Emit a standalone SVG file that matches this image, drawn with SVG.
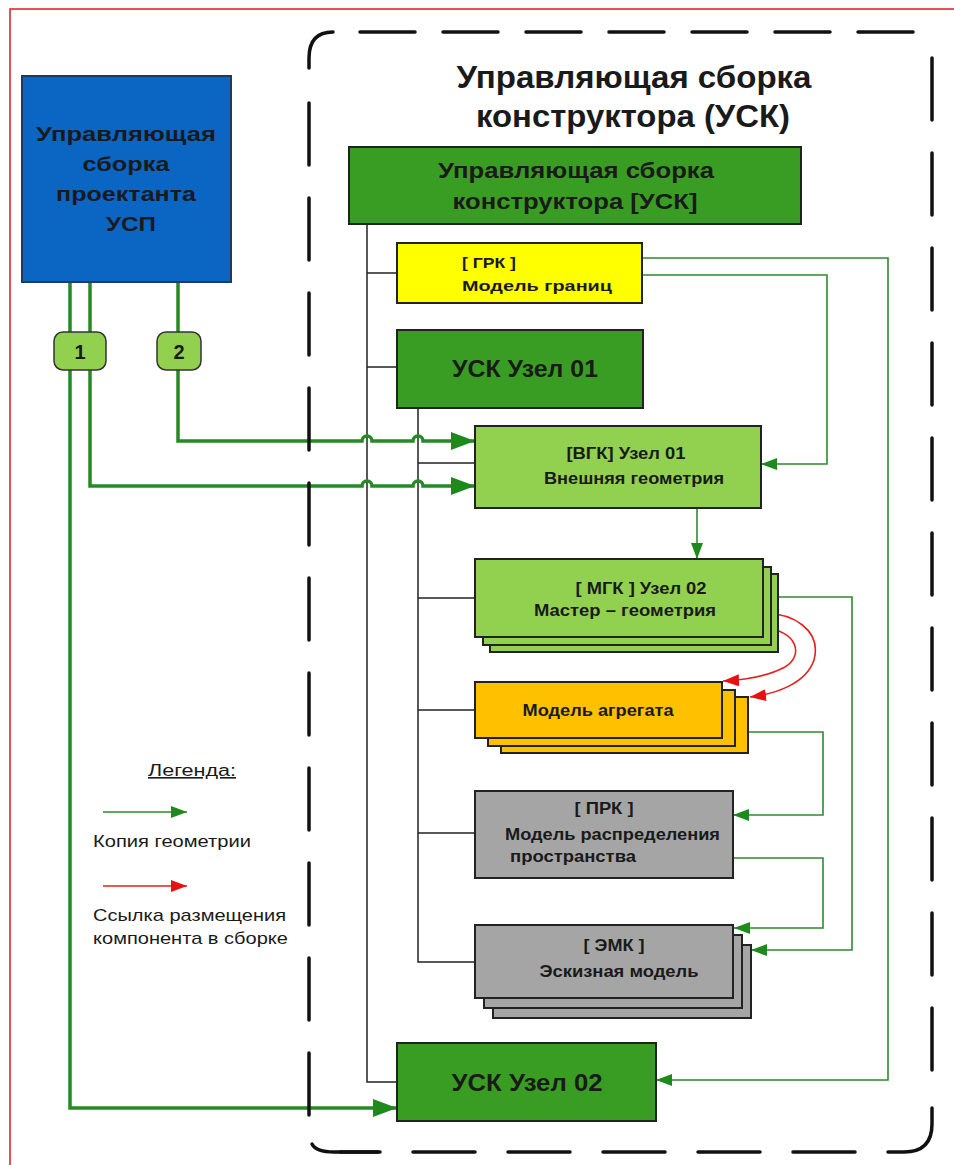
<svg xmlns="http://www.w3.org/2000/svg" width="954" height="1165" viewBox="0 0 954 1165">
<style>
  text { font-family: "Liberation Sans", Arial, sans-serif; fill: #1a1a1a; }
  .b { font-weight: bold; }
  .box { stroke: #222; stroke-width: 2; }
  .dkg { fill: #3A9D23; }
  .ltg { fill: #92D050; }
  .yel { fill: #FFFF00; }
  .org { fill: #FFC000; }
  .gry { fill: #A5A5A5; }
  .blk { fill: none; stroke: #222; stroke-width: 1.5; }
  .gthin { fill: none; stroke: #2E8B2E; stroke-width: 1.6; }
  .gthick { fill: none; stroke: #248A24; stroke-width: 3.5; }
  .red { fill: none; stroke: #E52020; stroke-width: 1.6; }
  .frame { fill: none; stroke: #111; stroke-width: 3.5; stroke-linecap: round; }
  .fh { stroke-dasharray: 55 28; }
  .fv { stroke-dasharray: 62 33; }
</style>
<defs>
  <marker id="ag" viewBox="0 0 16 12" refX="16" refY="6" markerWidth="16" markerHeight="12" markerUnits="userSpaceOnUse" orient="auto">
    <path d="M0,0 L16,6 L0,12 z" fill="#1E8A1E"/>
  </marker>
  <marker id="agt" viewBox="0 0 24 18" refX="24" refY="9" markerWidth="24" markerHeight="18" markerUnits="userSpaceOnUse" orient="auto">
    <path d="M0,0 L24,9 L0,18 z" fill="#1E8A1E"/>
  </marker>
  <marker id="ar" viewBox="0 0 16 12" refX="16" refY="6" markerWidth="16" markerHeight="12" markerUnits="userSpaceOnUse" orient="auto">
    <path d="M0,0 L16,6 L0,12 z" fill="#E81010"/>
  </marker>
</defs>

<rect x="0" y="0" width="954" height="1165" fill="#ffffff"/>
<rect x="10" y="9" width="1000" height="1200" fill="none" stroke="#E0191E" stroke-width="1.5"/>

<!-- connectors -->
<g id="connectors">
  <!-- black hierarchy lines -->
  <path class="blk" d="M367,224 V1082 H397"/>
  <path class="blk" d="M367,273 H397"/>
  <path class="blk" d="M367,367 H397"/>
  <path class="blk" d="M418,408 V962 H475"/>
  <path class="blk" d="M418,463 H475"/>
  <path class="blk" d="M418,598 H475"/>
  <path class="blk" d="M418,710 H475"/>
  <path class="blk" d="M418,833 H475"/>

  <!-- thick green lines from УСП -->
  <path class="gthick" d="M70,282 V1108 H397" marker-end="url(#agt)"/>
  <path class="gthick" d="M90,282 V486 H362 a5,5 0 0 1 10,0 H413 a5,5 0 0 1 10,0 H475" marker-end="url(#agt)"/>
  <path class="gthick" d="M178,282 V441 H362 a5,5 0 0 1 10,0 H413 a5,5 0 0 1 10,0 H475" marker-end="url(#agt)"/>

  <!-- thin green geometry copies -->
  <path class="gthin" d="M642,258 H888 V1080 H656" marker-end="url(#ag)"/>
  <path class="gthin" d="M642,275 H827 V464 H761" marker-end="url(#ag)"/>
  <path class="gthin" d="M697,508 V559" marker-end="url(#ag)"/>
  <path class="gthin" d="M763,597 H852 V950 H751" marker-end="url(#ag)"/>
  <path class="gthin" d="M735,732 H823 V815 H733" marker-end="url(#ag)"/>
  <path class="gthin" d="M733,858 H823 V928 H734" marker-end="url(#ag)"/>

  <!-- red placement references -->
  <path class="red" d="M763,614 C792,612 822,630 814,660 C806,684 775,694 750,697" marker-end="url(#ar)"/>
  <path class="red" d="M763,628 C798,630 804,656 785,667 C768,676 745,680 723,681" marker-end="url(#ar)"/>
</g>

<!-- УСП node -->
<g id="usp">
  <rect x="22" y="76" width="209" height="206" fill="#0B65C2" stroke="#1F3A5F" stroke-width="2"/>
  <text class="b" x="126" y="141" font-size="21" text-anchor="middle" textLength="180" lengthAdjust="spacingAndGlyphs">Управляющая</text>
  <text class="b" x="126" y="171" font-size="21" text-anchor="middle" textLength="87" lengthAdjust="spacingAndGlyphs">сборка</text>
  <text class="b" x="126" y="201" font-size="21" text-anchor="middle" textLength="140" lengthAdjust="spacingAndGlyphs">проектанта</text>
  <text class="b" x="131" y="231" font-size="21" text-anchor="middle" textLength="50" lengthAdjust="spacingAndGlyphs">УСП</text>
</g>

<!-- badges -->
<g id="badge1">
  <rect x="54" y="332" width="52" height="38" rx="9" fill="#92D050" stroke="#333" stroke-width="1.5"/>
  <text class="b" x="80" y="359" font-size="20" text-anchor="middle">1</text>
</g>
<g id="badge2">
  <rect x="157" y="332" width="44" height="38" rx="9" fill="#92D050" stroke="#333" stroke-width="1.5"/>
  <text class="b" x="179" y="359" font-size="20" text-anchor="middle">2</text>
</g>

<!-- dashed container -->
<g id="usk-frame">
  <path class="frame" d="M309,68 V58 Q309,32 333,32"/>
  <path class="frame fh" d="M360,32 H913"/>
  <path class="frame fv" d="M932,58 V1075"/>
  <path class="frame" d="M932,1108 V1124 Q932,1152 904,1152 H888"/>
  <path class="frame fv" d="M855,1152 H340" stroke-dashoffset="0"/>
  <path class="frame" d="M312,1144 Q316,1152 334,1152 H378"/>
  <path class="frame fv" d="M309,103 V1118"/>
  <text class="b" x="634" y="88" font-size="31" text-anchor="middle" textLength="355" lengthAdjust="spacingAndGlyphs">Управляющая сборка</text>
  <text class="b" x="633" y="127" font-size="31" text-anchor="middle" textLength="314" lengthAdjust="spacingAndGlyphs">конструктора (УСК)</text>
</g>

<g id="usk">
  <rect class="box dkg" x="349" y="147" width="452" height="77"/>
  <text class="b" x="576" y="178" font-size="22" text-anchor="middle" textLength="276" lengthAdjust="spacingAndGlyphs">Управляющая сборка</text>
  <text class="b" x="575" y="209" font-size="22" text-anchor="middle" textLength="245" lengthAdjust="spacingAndGlyphs">конструктора [УСК]</text>
</g>

<g id="grk">
  <rect class="box yel" x="397" y="243" width="245" height="60"/>
  <text class="b" x="462" y="268" font-size="15" textLength="54" lengthAdjust="spacingAndGlyphs">[ ГРК ]</text>
  <text class="b" x="462" y="291" font-size="15" textLength="150" lengthAdjust="spacingAndGlyphs">Модель границ</text>
</g>

<g id="usk-uzel01">
  <rect class="box dkg" x="397" y="330" width="246" height="78"/>
  <text class="b" x="525" y="377" font-size="24" text-anchor="middle" textLength="146" lengthAdjust="spacingAndGlyphs">УСК Узел 01</text>
</g>

<g id="vgk">
  <rect class="box ltg" x="475" y="426" width="286" height="82"/>
  <text class="b" x="626" y="459" font-size="16" text-anchor="middle" textLength="119" lengthAdjust="spacingAndGlyphs">[ВГК] Узел 01</text>
  <text class="b" x="634" y="484" font-size="16" text-anchor="middle" textLength="180" lengthAdjust="spacingAndGlyphs">Внешняя геометрия</text>
</g>

<g id="mgk">
  <rect class="box ltg" x="490" y="574" width="288" height="78"/>
  <rect class="box ltg" x="483" y="567" width="288" height="78"/>
  <rect class="box ltg" x="475" y="559" width="288" height="78"/>
  <text class="b" x="641" y="594" font-size="16" text-anchor="middle" textLength="131" lengthAdjust="spacingAndGlyphs">[ МГК ] Узел 02</text>
  <text class="b" x="625" y="616" font-size="16" text-anchor="middle" textLength="182" lengthAdjust="spacingAndGlyphs">Мастер – геометрия</text>
</g>

<g id="agregat">
  <rect class="box org" x="501" y="697" width="247" height="56"/>
  <rect class="box org" x="488" y="690" width="247" height="56"/>
  <rect class="box org" x="475" y="682" width="247" height="56"/>
  <text class="b" x="598" y="716" font-size="16" text-anchor="middle" textLength="151" lengthAdjust="spacingAndGlyphs">Модель агрегата</text>
</g>

<g id="prk">
  <rect class="box gry" x="475" y="791" width="258" height="87"/>
  <text class="b" x="604" y="814" font-size="16" text-anchor="middle" textLength="59" lengthAdjust="spacingAndGlyphs">[ ПРК ]</text>
  <text class="b" x="505" y="840" font-size="16" textLength="215" lengthAdjust="spacingAndGlyphs">Модель распределения</text>
  <text class="b" x="510" y="862" font-size="16" textLength="126" lengthAdjust="spacingAndGlyphs">пространства</text>
</g>

<g id="emk">
  <rect class="box gry" x="493" y="945" width="258" height="73"/>
  <rect class="box gry" x="484" y="935" width="258" height="73"/>
  <rect class="box gry" x="475" y="925" width="258" height="73"/>
  <text class="b" x="614" y="951" font-size="16" text-anchor="middle" textLength="61" lengthAdjust="spacingAndGlyphs">[ ЭМК ]</text>
  <text class="b" x="619" y="977" font-size="16" text-anchor="middle" textLength="159" lengthAdjust="spacingAndGlyphs">Эскизная модель</text>
</g>

<g id="usk-uzel02">
  <rect class="box dkg" x="397" y="1043" width="259" height="78"/>
  <text class="b" x="527" y="1091" font-size="24" text-anchor="middle" textLength="151" lengthAdjust="spacingAndGlyphs">УСК Узел 02</text>
</g>

<!-- legend -->
<g id="legend">
  <text x="192" y="776" font-size="16" text-anchor="middle" textLength="88" lengthAdjust="spacingAndGlyphs" text-decoration="underline">Легенда:</text>
  <line x1="103" y1="812" x2="187" y2="812" stroke="#2E8B2E" stroke-width="1.6" marker-end="url(#ag)"/>
  <text x="93" y="847" font-size="17" textLength="158" lengthAdjust="spacingAndGlyphs">Копия геометрии</text>
  <line x1="103" y1="886" x2="187" y2="886" stroke="#E52020" stroke-width="1.6" marker-end="url(#ar)"/>
  <text x="93" y="921" font-size="17" textLength="193" lengthAdjust="spacingAndGlyphs">Ссылка размещения</text>
  <text x="93" y="944" font-size="17" textLength="195" lengthAdjust="spacingAndGlyphs">компонента в сборке</text>
</g>
</svg>
